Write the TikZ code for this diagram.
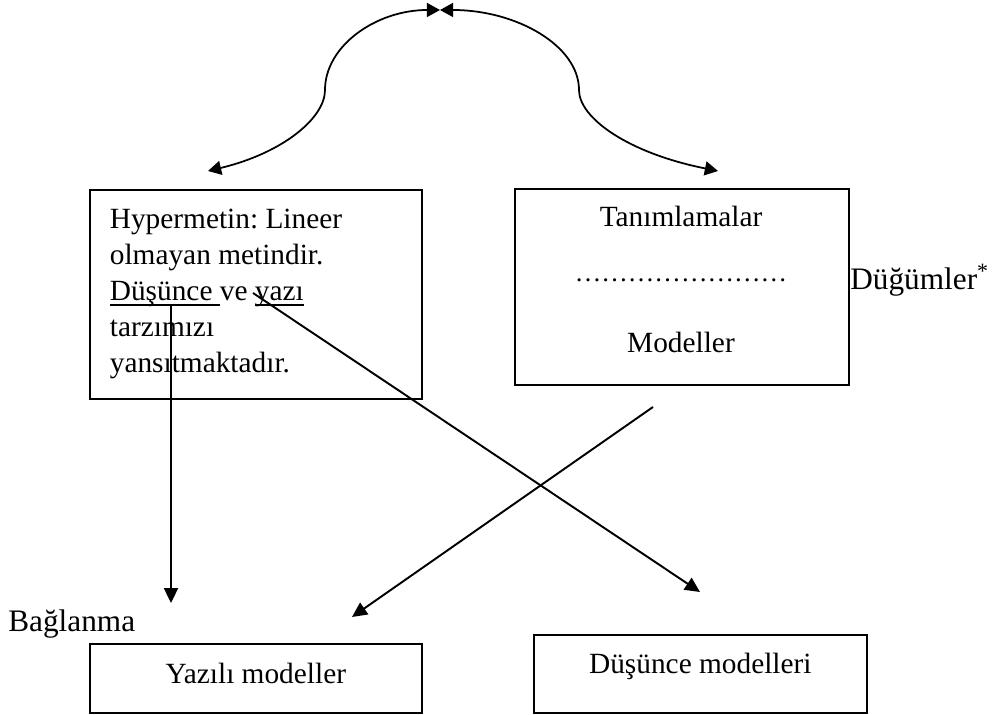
\documentclass[tikz,border=0pt]{standalone}
\usepackage{fontspec}
\setmainfont{Liberation Serif}
\usepackage{tikz}
\usetikzlibrary{arrows.meta,positioning,calc}
\newcommand{\boxfont}{\fontsize{16.7}{20.5}\selectfont\frenchspacing}
\newcommand{\sidefont}{\fontsize{17.8}{21}\selectfont}
\newcommand{\uword}[1]{\leavevmode\setbox0=\hbox{#1}\rlap{\rule[-2.8pt]{\wd0}{0.9pt}}\box0}
\tikzset{
    box/.style={draw, line width=1pt, inner sep=0pt, font=\boxfont},
    side/.style={inner sep=0pt, font=\sidefont},
    link/.style={line width=1.1pt, -{Triangle[length=8.5pt,width=8pt]}},
    twoway/.style={line width=1pt, {Triangle[length=7.5pt,width=8pt]}-{Triangle[length=7.5pt,width=8pt]}}
}

\begin{document}
\begin{tikzpicture}[x=0.02cm,y=-0.02cm]
    \useasboundingbox (0,0) rectangle (994,715);

    % Upper boxes
    \node[box, anchor=north west, text width=5.84cm, inner xsep=0.4cm, minimum height=4.18cm, align=flush left] (hyper) at (89,189)
        {Hypermetin: Lineer\\ olmayan metindir.\\ \uword{Düşünce }ve \uword{yazı}\\ tarzımızı\\ yansıtmaktadır.};
    \node[box, anchor=north west, minimum width=6.68cm, minimum height=3.92cm] (defs) at (514,188) {};
    \node[anchor=base, font=\boxfont] (tanim) at (681,227) {Tanımlamalar};
    \node[anchor=base, font=\fontsize{15.1}{18}\selectfont] (dots) at (681,282) {……………………};
    \node[anchor=base, font=\boxfont] (model) at (681,353) {Modeller};
    \node[side, anchor=base west] (dugum) at (850,290) {Düğümler\textsuperscript{*}};

    % Lower boxes
    \node[side, anchor=base west] (bag) at (8,632) {Bağlanma};
    \node[box, anchor=north west, minimum width=6.64cm, minimum height=1.38cm, text height=10pt, text depth=3.7pt] (yazili) at (89,643) {Yazılı modeller};
    \node[box, anchor=north west, minimum width=6.66cm, minimum height=1.56cm, text height=8pt, text depth=8pt] (dusunce) at (533,634) {Düşünce modelleri};

    % Curved double arrows on top
    \coordinate (topmid) at (440,10);
    \coordinate (leftend) at (208,171);
    \coordinate (rightend) at (718,171);
    \coordinate (leftbend) at (325,90);
    \coordinate (rightbend) at (579,90);
    \draw[twoway] (leftend) .. controls (283,153) and (325,118) .. (leftbend)
        .. controls (325,46) and (376,10) .. (topmid);
    \draw[twoway] (topmid) .. controls (517,10) and (579,46) .. (rightbend)
        .. controls (579,118) and (628,153) .. (rightend);

    % Straight arrows
    \coordinate (dusfrom) at (171,306);
    \coordinate (bagto) at (171,603);
    \coordinate (yazifrom) at (253,293);
    \coordinate (dusto) at (700,592);
    \coordinate (modfrom) at (653,407);
    \coordinate (yazto) at (352,617);
    \draw[link] (dusfrom) -- (bagto);
    \draw[link] (yazifrom) -- (dusto);
    \draw[link] (modfrom) -- (yazto);
\end{tikzpicture}
\end{document}
